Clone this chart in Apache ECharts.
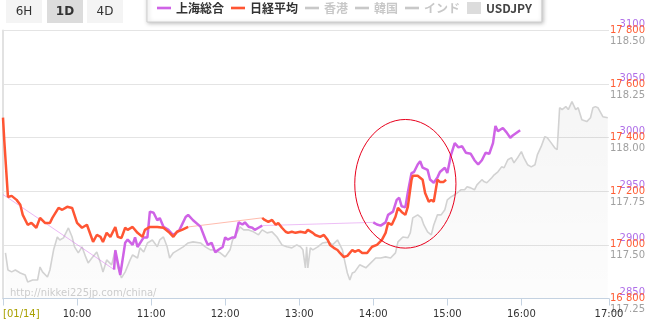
<!DOCTYPE html>
<html><head><meta charset="utf-8">
<script src="https://cdn.jsdelivr.net/npm/echarts@6/dist/echarts.min.js"></script>
<style>html,body{margin:0;padding:0;background:#fff}#c{width:650px;height:321px}</style>
</head><body><div id="c"></div>
<script>
// ---- data (time JST, value) ----
const shanghaiPrevClose = ['9:00', 2947];
const shanghaiAM = [['10:30',2877],['10:31',2895],['10:35',2872],['10:39',2902],['10:41',2905],['10:45',2900],['10:47',2907],['10:49',2898],['10:54',2907],['10:57',2907],['10:59',2931],['11:02',2930],['11:05',2923],['11:07',2925],['11:10',2917],['11:14',2914],['11:18',2909],['11:23',2914],['11:28',2926],['11:30',2928],['11:34',2923],['11:40',2917],['11:44',2905],['11:46',2900],['11:49',2902],['11:52',2893],['11:54',2895],['11:58',2898],['12:00',2907],['12:02',2905],['12:06',2907],['12:08',2907],['12:11',2921],['12:14',2919],['12:16',2921],['12:19',2917],['12:22',2916],['12:24',2914],['12:27',2916],['12:30',2918]];
const shanghaiPM = [['14:00',2921],['14:03',2919],['14:06',2918],['14:10',2921],['14:12',2928],['14:16',2931],['14:19',2942],['14:21',2944],['14:23',2936],['14:26',2935],['14:28',2949],['14:31',2967],['14:33',2968],['14:36',2975],['14:38',2978],['14:40',2972],['14:44',2970],['14:46',2961],['14:49',2958],['14:52',2963],['14:54',2968],['14:58',2972],['15:00',2967],['15:03',2984],['15:06',2995],['15:09',2991],['15:12',2992],['15:15',2986],['15:19',2985],['15:22',2979],['15:25',2975],['15:28',2979],['15:31',2986],['15:34',2985],['15:37',2995],['15:39',3011],['15:41',3006],['15:45',3009],['15:48',3005],['15:51',3000],['15:53',3002],['15:59',3007]];
const nikkeiAM = [['9:00',17475],['9:01',17392],['9:02',17385],['9:04',17179],['9:07',17183],['9:11',17168],['9:14',17150],['9:16',17112],['9:20',17075],['9:23',17082],['9:27',17064],['9:30',17101],['9:34',17082],['9:38',17082],['9:40',17101],['9:45',17138],['9:48',17131],['9:52',17142],['9:56',17138],['10:00',17082],['10:04',17064],['10:08',17075],['10:11',17037],['10:13',17011],['10:16',17037],['10:19',17030],['10:21',17011],['10:24',17045],['10:27',17030],['10:31',17067],['10:33',17030],['10:36',17026],['10:39',17064],['10:41',17056],['10:45',17067],['10:49',17045],['10:53',17030],['10:55',17056],['10:59',17067],['11:05',17067],['11:10',17064],['11:15',17045],['11:18',17030],['11:21',17049],['11:25',17056],['11:30',17067]];
const nikkeiPM = [['12:30',17101],['12:32',17093],['12:35',17086],['12:38',17093],['12:41',17075],['12:43',17082],['12:46',17064],['12:49',17049],['12:51',17045],['12:54',17049],['12:57',17045],['13:01',17049],['13:05',17045],['13:07',17056],['13:11',17045],['13:13',17037],['13:17',17030],['13:20',17037],['13:23',17019],['13:25',17000],['13:28',16989],['13:31',16981],['13:33',16970],['13:36',16955],['13:39',16959],['13:43',16981],['13:45',16974],['13:48',16981],['13:51',16970],['13:55',16970],['13:59',16993],['14:03',17000],['14:07',17019],['14:10',17045],['14:12',17082],['14:15',17075],['14:18',17105],['14:20',17138],['14:23',17123],['14:26',17112],['14:28',17142],['14:31',17243],['14:32',17258],['14:36',17258],['14:40',17243],['14:42',17194],['14:45',17161],['14:47',17168],['14:49',17161],['14:52',17243],['14:54',17235],['14:57',17235],['14:59',17243]];
const usdjpy = [['9:02',117.463],['9:04',117.383],['9:07',117.374],['9:10',117.383],['9:14',117.369],['9:18',117.360],['9:20',117.327],['9:24',117.336],['9:28',117.336],['9:30',117.397],['9:32',117.374],['9:36',117.350],['9:38',117.383],['9:41',117.477],['9:44',117.537],['9:46',117.523],['9:49',117.533],['9:53',117.579],['9:56',117.537],['9:58',117.491],['10:01',117.463],['10:04',117.491],['10:07',117.444],['10:09',117.416],['10:12',117.439],['10:16',117.467],['10:19',117.416],['10:21',117.374],['10:24',117.430],['10:28',117.407],['10:31',117.477],['10:33',117.397],['10:36',117.346],['10:39',117.374],['10:43',117.430],['10:45',117.453],['10:49',117.439],['10:51',117.486],['10:54',117.467],['10:57',117.509],['11:01',117.523],['11:05',117.491],['11:07',117.523],['11:10',117.537],['11:13',117.491],['11:15',117.439],['11:18',117.463],['11:22',117.477],['11:26',117.491],['11:30',117.509],['11:34',117.514],['11:40',117.509],['11:44',117.491],['11:48',117.477],['11:50',117.477],['11:56',117.463],['12:00',117.444],['12:04',117.477],['12:06',117.523],['12:10',117.561],['12:12',117.584],['12:15',117.570],['12:19',117.570],['12:23',117.561],['12:27',117.547],['12:30',117.570],['12:34',117.556],['12:38',117.561],['12:42',117.537],['12:46',117.500],['12:50',117.491],['12:54',117.486],['12:58',117.500],['13:01',117.491],['13:03',117.477],['13:05',117.393],['13:06',117.491],['13:07',117.393],['13:09',117.486],['13:11',117.477],['13:15',117.491],['13:19',117.509],['13:24',117.514],['13:27',117.500],['13:31',117.523],['13:35',117.477],['13:37',117.421],['13:39',117.369],['13:41',117.336],['13:43',117.369],['13:45',117.374],['13:49',117.407],['13:54',117.393],['13:58',117.416],['14:02',117.439],['14:06',117.439],['14:10',117.444],['14:14',117.439],['14:18',117.463],['14:20',117.514],['14:24',117.537],['14:28',117.533],['14:30',117.556],['14:32',117.626],['14:36',117.640],['14:39',117.626],['14:41',117.593],['14:44',117.561],['14:47',117.547],['14:49',117.593],['14:52',117.640],['14:55',117.640],['14:58',117.664],['15:00',117.710],['15:03',117.724],['15:06',117.734],['15:08',117.743],['15:11',117.757],['15:14',117.757],['15:16',117.771],['15:19',117.766],['15:22',117.757],['15:24',117.780],['15:28',117.804],['15:30',117.794],['15:32',117.790],['15:36',117.813],['15:38',117.827],['15:41',117.841],['15:44',117.864],['15:46',117.860],['15:49',117.897],['15:52',117.907],['15:54',117.883],['15:57',117.907],['16:00',117.935],['16:02',117.907],['16:05',117.874],['16:08',117.864],['16:11',117.874],['16:13',117.921],['16:16',117.958],['16:19',118.005],['16:21',118.000],['16:24',117.977],['16:27',117.953],['16:29',117.944],['16:31',118.140],['16:33',118.131],['16:36',118.145],['16:38',118.131],['16:41',118.168],['16:44',118.131],['16:46',118.140],['16:49',118.084],['16:53',118.075],['16:56',118.093],['16:58',118.140],['17:00',118.145],['17:02',118.140],['17:06',118.098],['17:10',118.093]];
const xTickTimes = ['9:00','10:00','11:00','12:00','13:00','14:00','15:00','16:00'];
const xEndTime = '17:11';
const xEndLabel = '17:00';
const dateLabel = '[01/14]';
const shanghaiTicks = [2850, 3100, 50];
const nikkeiTicks = [16800, 17800, 200];
const usdTicks = [117.25, 118.5, 0.25];
const annotation = { center: ['14:26', 17228], halfMinutes: 41, halfYen: 240 };

// ---- helpers ----
const tm = s => { const [h, m] = s.split(':').map(Number); return h * 60 + m; };
const pts = arr => arr.map(([t, v]) => [tm(t), v]);
const FONT = 'DejaVu Sans';
const PURPLE = '#cf63e6', RED = '#ff5533';
const LINE_ICON = 'path://M0,0H16V3H0Z';

const chart = echarts.init(document.getElementById('c'), null, { renderer: 'canvas' });
const xEnd = tm(xEndTime);
const tickVals = xTickTimes.map(tm).concat([xEnd]);

function yAxisCfg(t, color, fmt, va, pad, split) {
  return {
    type: 'value', position: 'right', min: t[0], max: t[1], interval: t[2],
    axisLine: { show: false }, axisTick: { show: false },
    splitLine: { show: split, lineStyle: { color: '#e4e4e4', width: 1 } },
    axisLabel: { color, fontFamily: FONT, fontSize: 10, align: 'right', margin: 36,
      verticalAlign: va, padding: pad, formatter: fmt }
  };
}

const option = {
  animation: false,
  backgroundColor: '#fff',
  grid: { left: 3, right: 41, top: 30.5, bottom: 22.5, containLabel: false, outerBoundsMode: 'none' },
  xAxis: {
    type: 'value', min: tm(xTickTimes[0]), max: xEnd,
    axisLine: { show: true, lineStyle: { color: '#c5d3e2', width: 1 } },
    axisTick: { show: true, length: 7, lineStyle: { color: '#c5d3e2' }, customValues: tickVals },
    splitLine: { show: false },
    axisLabel: {
      customValues: tickVals, margin: 11, color: '#333', fontFamily: FONT, fontSize: 10,
      alignMinLabel: 'left',
      formatter: v => {
        if (v === tm(xTickTimes[0])) return '{d|' + dateLabel + '}';
        if (v === xEnd) return xEndLabel;
        return Math.floor(v / 60) + ':' + String(v % 60).padStart(2, '0');
      },
      rich: { d: { color: '#a8a000', fontFamily: FONT, fontSize: 10 } }
    }
  },
  yAxis: [
    yAxisCfg(shanghaiTicks, '#b070e8', v => String(v), 'bottom', [0, 0, 1, 0], true),
    yAxisCfg(nikkeiTicks, '#ff5c33', v => String(v).replace(/(\d\d)(\d{3})$/, '$1 $2'), 'middle', [6, 0, 0, 0], false),
    yAxisCfg(usdTicks, '#a0a0a0', v => v.toFixed(2), 'top', [6, 0, 0, 0], false),
    { type: 'value', position: 'left', min: 0, max: 1, axisLine: { show: true, lineStyle: { color: '#e2e2e2', width: 2 } },
      axisTick: { show: false }, axisLabel: { show: false }, splitLine: { show: false } }
  ],
  legend: {
    left: 147, top: -8, padding: [10, 10, 8, 10], itemGap: 7, itemWidth: 14, itemHeight: 12,
    backgroundColor: '#fff', borderColor: '#cfcfcf', borderWidth: 1,
    shadowBlur: 4, shadowColor: 'rgba(0,0,0,0.25)', shadowOffsetX: 1, shadowOffsetY: 1,
    inactiveColor: '#c8c8c8', inactiveBorderColor: '#c8c8c8',
    textStyle: { fontSize: 12, fontWeight: 'bold', color: '#333', fontFamily: 'Noto Sans CJK JP' },
    selected: { '香港': false, '韓国': false, 'インド': false },
    data: [
      { name: '上海総合', icon: LINE_ICON }, { name: '日経平均', icon: LINE_ICON },
      { name: '香港', icon: LINE_ICON }, { name: '韓国', icon: LINE_ICON }, { name: 'インド', icon: LINE_ICON },
      { name: 'USDJPY', icon: 'rect', itemStyle: { color: '#dcdcdc', borderWidth: 0 }, textStyle: { color: '#444' } }
    ]
  },
  series: [
    { name: 'USDJPY', type: 'line', xAxisIndex: 0, yAxisIndex: 2, data: pts(usdjpy), symbol: 'none', z: 1,
      lineStyle: { color: '#d2d2d2', width: 1.6 }, itemStyle: { color: '#dcdcdc' },
      areaStyle: { color: new echarts.graphic.LinearGradient(0, 0, 0, 1, [
        { offset: 0, color: 'rgba(0,0,0,0.055)' }, { offset: 1, color: 'rgba(0,0,0,0.015)' }]) } },
    { name: 'sh-gap', type: 'line', yAxisIndex: 0, symbol: 'none', z: 2,
      data: [[tm(shanghaiPrevClose[0]), shanghaiPrevClose[1]], pts(shanghaiAM)[0]],
      lineStyle: { color: 'rgba(214,110,235,0.5)', width: 1 } },
    { name: 'sh-gap2', type: 'line', yAxisIndex: 0, symbol: 'none', z: 2,
      data: [pts(shanghaiAM).slice(-1)[0], pts(shanghaiPM)[0]],
      lineStyle: { color: 'rgba(214,110,235,0.45)', width: 1 } },
    { name: 'nk-gap', type: 'line', yAxisIndex: 1, symbol: 'none', z: 2,
      data: [pts(nikkeiAM).slice(-1)[0], pts(nikkeiPM)[0]],
      lineStyle: { color: 'rgba(255,85,51,0.4)', width: 1 } },
    { name: '上海総合', type: 'line', yAxisIndex: 0, data: pts(shanghaiAM), symbol: 'none', z: 3,
      lineStyle: { color: PURPLE, width: 2.5 }, itemStyle: { color: PURPLE } },
    { name: '上海総合', type: 'line', yAxisIndex: 0, data: pts(shanghaiPM), symbol: 'none', z: 3,
      lineStyle: { color: PURPLE, width: 2.5 }, itemStyle: { color: PURPLE } },
    { name: '日経平均', type: 'line', yAxisIndex: 1, data: pts(nikkeiAM), symbol: 'none', z: 4,
      lineStyle: { color: RED, width: 2.5 }, itemStyle: { color: RED } },
    { name: '日経平均', type: 'line', yAxisIndex: 1, data: pts(nikkeiPM), symbol: 'none', z: 4,
      lineStyle: { color: RED, width: 2.5 }, itemStyle: { color: RED } },
    { name: '香港', type: 'line', yAxisIndex: 0, data: [], symbol: 'none', lineStyle: { color: '#ccc', width: 2 } },
    { name: '韓国', type: 'line', yAxisIndex: 0, data: [], symbol: 'none', lineStyle: { color: '#ccc', width: 2 } },
    { name: 'インド', type: 'line', yAxisIndex: 0, data: [], symbol: 'none', lineStyle: { color: '#ccc', width: 2 } }
  ]
};
chart.setOption(option);

// annotation ellipse in data space, and UI decorations
const c = chart.convertToPixel({ xAxisIndex: 0, yAxisIndex: 1 }, [tm(annotation.center[0]), annotation.center[1]]);
const e = chart.convertToPixel({ xAxisIndex: 0, yAxisIndex: 1 },
  [tm(annotation.center[0]) + annotation.halfMinutes, annotation.center[1] + annotation.halfYen]);
const btn = (cx, label, active) => ({
  type: 'group', children: [
    { type: 'rect', shape: { x: cx - 18, y: 0, width: 36, height: 23 }, style: { fill: active ? '#dcdcdc' : '#f4f4f4' } },
    { type: 'text', x: cx, y: 11.5, style: { text: label, fill: '#333', font: (active ? 'bold ' : '') + '12px ' + FONT, align: 'center', verticalAlign: 'middle' } }
  ]
});
chart.setOption({
  graphic: [
    btn(24, '6H', false), btn(65, '1D', true), btn(105, '4D', false),
    { type: 'text', x: 10, y: 293, z: 0, style: { text: 'http://nikkei225jp.com/china/', fill: '#cfcfcf', font: '10px ' + FONT, verticalAlign: 'middle' } },
    { type: 'ellipse', z: 10, shape: { cx: c[0], cy: c[1], rx: Math.abs(e[0] - c[0]), ry: Math.abs(c[1] - e[1]) },
      style: { fill: 'none', stroke: '#e8001c', lineWidth: 1 } }
  ]
});
</script></body></html>
